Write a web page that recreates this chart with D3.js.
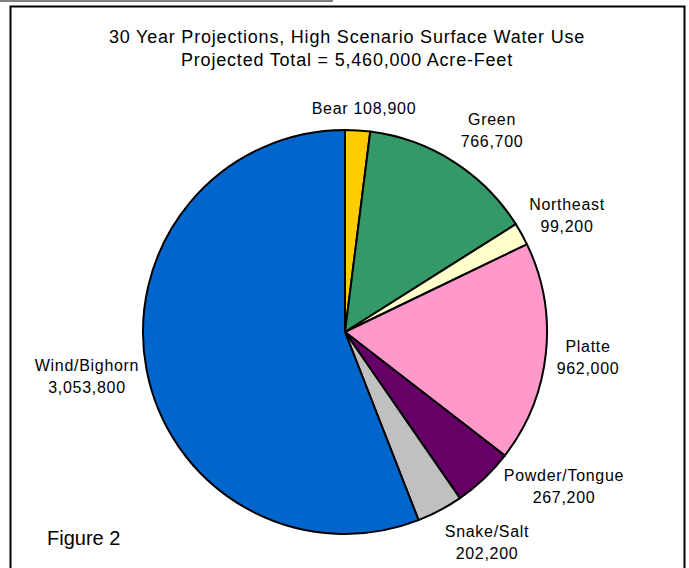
<!DOCTYPE html>
<html>
<head>
<meta charset="utf-8">
<script src="https://cdn.jsdelivr.net/npm/d3@7"></script>
<style>
  body { margin: 0; background: #fff; }
  text { font-family: "Liberation Sans", Arial, sans-serif; fill: #000; }
</style>
</head>
<body>
<svg id="chart" width="689" height="568"></svg>
<script>
// basin names, clockwise from 12 o'clock
const basins = ['Bear', 'Green', 'Northeast', 'Platte', 'Powder/Tongue', 'Snake/Salt', 'Wind/Bighorn'];
const acreFeet = [108900, 766700, 99200, 962000, 267200, 202200, 3053800];
const sliceColors = ['#ffcc00', '#339966', '#ffffcc', '#ff99cc', '#660066', '#c0c0c0', '#0066cc'];
const titleLines = ['30 Year Projections, High Scenario Surface Water Use', 'Projected Total = 5,460,000 Acre-Feet'];

const svg = d3.select('#chart');

// frame
svg.append('line')
  .attr('x1', 0).attr('x2', 333).attr('y1', 1).attr('y2', 1)
  .attr('stroke', '#808080').attr('stroke-width', 2);
svg.append('rect')
  .attr('x', 10.5).attr('y', 6.5)
  .attr('width', 674).attr('height', 580)
  .attr('fill', 'none').attr('stroke', '#000').attr('stroke-width', 2);

// title
svg.append('g').selectAll('text')
  .data(titleLines)
  .enter()
  .append('text')
  .attr('x', 347)
  .attr('y', (d, i) => 43 + i * 23)
  .attr('text-anchor', 'middle')
  .style('font-size', '18px')
  .style('letter-spacing', '0.8px')
  .text(d => d);

const cx = 345, cy = 332, radius = 202;
const data = basins.map((b, i) => ({ name: b, value: acreFeet[i], color: sliceColors[i] }));

const pie = d3.pie().value(d => d.value).sort(null);
const arc = d3.arc().innerRadius(0).outerRadius(radius);

const g = svg.append('g').attr('transform', `translate(${cx},${cy})`);
g.selectAll('path')
  .data(pie(data))
  .enter()
  .append('path')
  .attr('d', arc)
  .attr('fill', d => d.data.color)
  .attr('stroke', '#000')
  .attr('stroke-width', 2)
  .attr('stroke-linejoin', 'round');

// label anchors, placed like Excel's outside labels
const fmt = d3.format(',');
const labelPos = {
  'Bear': [364, 114, true],
  'Green': [492, 125],
  'Northeast': [567, 210],
  'Platte': [588, 352],
  'Powder/Tongue': [564, 481],
  'Snake/Salt': [487, 537],
  'Wind/Bighorn': [87, 371]
};

const labels = svg.append('g')
  .style('font-size', '16px')
  .style('letter-spacing', '0.7px');
data.forEach(d => {
  const [x, y, oneLine] = labelPos[d.name];
  if (oneLine) {
    labels.append('text').attr('x', x).attr('y', y)
      .attr('text-anchor', 'middle').text(`${d.name} ${fmt(d.value)}`);
  } else {
    labels.append('text').attr('x', x).attr('y', y)
      .attr('text-anchor', 'middle').text(d.name);
    labels.append('text').attr('x', x).attr('y', y + 22)
      .attr('text-anchor', 'middle').text(fmt(d.value));
  }
});

svg.append('text')
  .attr('x', 47).attr('y', 545)
  .style('font-size', '20px')
  .text('Figure 2');
</script>
</body>
</html>
